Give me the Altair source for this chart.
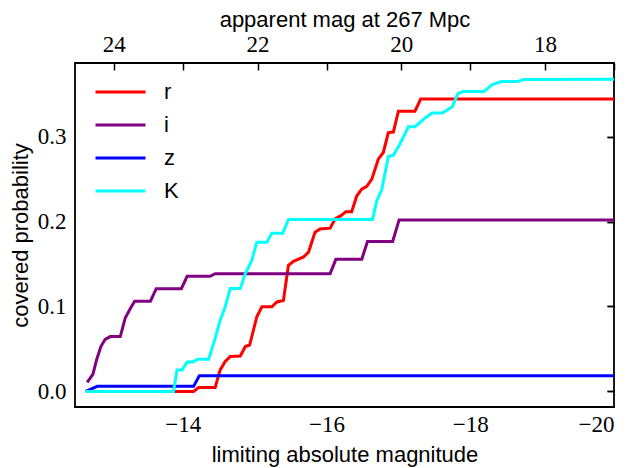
import altair as alt
import pandas as pd

# ---------------- data ----------------
bands = ["r", "i", "z", "K"]
band_colors = ["#ff0000", "#800080", "#0000ff", "#00ffff"]

r_mag = [-12.65, -14.15, -14.22, -14.45, -14.52, -14.59, -14.66, -14.80, -14.87, -14.93,
         -15.03, -15.10, -15.24, -15.31, -15.40, -15.47, -15.54, -15.68, -15.75, -15.84,
         -15.91, -16.05, -16.12, -16.20, -16.27, -16.35, -16.42, -16.49, -16.56, -16.63,
         -16.72, -16.79, -16.86, -16.93, -17.00, -17.23, -17.31, -20.0]
r_prob = [0.0, 0.0, 0.0045, 0.0045, 0.0253, 0.0352, 0.041, 0.0417, 0.0528, 0.0546,
          0.0879, 0.0996, 0.0996, 0.1053, 0.107, 0.1484, 0.1531, 0.1583, 0.1641, 0.1876,
          0.1914, 0.1923, 0.2032, 0.207, 0.2117, 0.2117, 0.2301, 0.2383, 0.2415, 0.25,
          0.2735, 0.2814, 0.3048, 0.3055, 0.3301, 0.3301, 0.3444, 0.3444]

i_mag = [-12.67, -12.75, -12.80, -12.86, -12.92, -12.99, -13.13, -13.20, -13.27, -13.33,
         -13.55, -13.63, -13.98, -14.06, -14.38, -14.45, -16.05, -16.13, -16.49, -16.57,
         -16.92, -17.01, -20.0]
i_prob = [0.0106, 0.0203, 0.037, 0.0528, 0.0613, 0.0645, 0.0645, 0.0868, 0.0977, 0.1062,
          0.1062, 0.121, 0.121, 0.1355, 0.1355, 0.1387, 0.1387, 0.1555, 0.1555, 0.1766,
          0.1766, 0.202, 0.202]

z_mag = [-12.65, -12.81, -14.15, -14.23, -20.0]
z_prob = [0.0, 0.0059, 0.0059, 0.0183, 0.0183]

k_mag = [-12.65, -13.87, -13.92, -13.99, -14.06, -14.14, -14.21, -14.36, -14.45, -14.52,
         -14.59, -14.66, -14.80, -14.87, -14.96, -15.03, -15.17, -15.24, -15.39, -15.47,
         -16.64, -16.70, -16.77, -16.86, -16.93, -17.02, -17.14, -17.23, -17.30, -17.38,
         -17.47, -17.61, -17.75, -17.83, -17.90, -18.19, -18.30, -18.43, -18.66, -18.74,
         -20.0]
k_prob = [0.0, 0.0, 0.0253, 0.0253, 0.0347, 0.0347, 0.0379, 0.0379, 0.0625, 0.0839,
          0.0996, 0.1211, 0.1211, 0.1387, 0.1543, 0.1758, 0.1758, 0.1864, 0.1864, 0.2026,
          0.2026, 0.2246, 0.2383, 0.2767, 0.2782, 0.2911, 0.3118, 0.3118, 0.3169, 0.3227,
          0.328, 0.328, 0.3353, 0.3509, 0.3532, 0.3532, 0.3611, 0.3649, 0.3649, 0.3673,
          0.3676]

x_ticks = [-14, -16, -18, -20]
y_ticks = [0.0, 0.1, 0.2, 0.3]
app_ticks = [24, 22, 20, 18]
distance_modulus = 37.04
x_limits = [-20.0, -12.5]
y_limits = [-0.0184, 0.3868]

# ---------------- styling ----------------
SERIF = "Liberation Serif"
SANS = "Liberation Sans"
TICK = dict(ticks=False, tickSize=0, domain=False, grid=True, gridDash=[7, 2000],
            gridColor="black", gridWidth=1.5, gridOpacity=1,
            labelColor="black", titleColor="black")

series = [(b, m, p) for b, m, p in zip(bands, [r_mag, i_mag, z_mag, k_mag],
                                        [r_prob, i_prob, z_prob, k_prob])]

x_scale = alt.Scale(domain=x_limits, reverse=True, nice=False, zero=False)
y_scale = alt.Scale(domain=y_limits, nice=False, zero=False)

color = alt.Color(
    "band:N",
    scale=alt.Scale(domain=bands, range=band_colors),
    legend=alt.Legend(
        title=None, orient="none", legendX=34, legendY=17.5, padding=0,
        symbolType="M-2.5,0H2.5", symbolSize=400, symbolStrokeWidth=3,
        labelFont=SANS, labelFontSize=22, labelColor="black", labelOffset=32,
        rowPadding=10,
    ),
)

x_axis = alt.Axis(values=x_ticks, format="d", labelFont=SERIF, labelFontSize=23,
                  labelPadding=6, title="limiting absolute magnitude", titleFont=SANS,
                  titleFontSize=22, titleFontWeight="normal", titlePadding=8, **TICK)
y_axis = alt.Axis(values=y_ticks, format=".1f", labelFont=SERIF, labelFontSize=23,
                  labelPadding=9, title="covered probability", titleFont=SANS,
                  titleFontSize=22, titleFontWeight="normal", titlePadding=5, **TICK)

layers = []
for b, m, p in series:
    df = pd.DataFrame({"mag": m, "prob": p, "band": b})
    layers.append(
        alt.Chart(df).mark_line(strokeWidth=3, clip=True).encode(
            x=alt.X("mag:Q", scale=x_scale, axis=x_axis),
            y=alt.Y("prob:Q", scale=y_scale, axis=y_axis),
            color=color,
        )
    )
lines = alt.layer(*layers)

top = alt.Chart(pd.DataFrame({"app": app_ticks})).mark_point(opacity=0).encode(
    x=alt.X("app:Q",
            scale=alt.Scale(domain=[x_limits[0] + distance_modulus,
                                   x_limits[1] + distance_modulus],
                            reverse=True, nice=False, zero=False),
            axis=alt.Axis(orient="top", values=app_ticks, format="d", labelFont=SERIF,
                          labelFontSize=23, labelPadding=7,
                          title="apparent mag at 267 Mpc", titleFont=SANS,
                          titleFontSize=22, titleFontWeight="normal", titlePadding=2,
                          **TICK))
)

right = alt.Chart(pd.DataFrame({"p": y_ticks})).mark_point(opacity=0).encode(
    y=alt.Y("p:Q", scale=y_scale,
            axis=alt.Axis(orient="right", values=y_ticks, labels=False, title=None, **TICK))
)

chart = (
    alt.layer(lines, top, right)
    .resolve_scale(x="independent", y="independent")
    .properties(width=539, height=344,
                autosize=alt.AutoSizeParams(type="none"),
                padding={"left": 67, "top": 55, "right": 12, "bottom": 60})
    .configure_view(stroke="black", strokeWidth=1.8)
)

chart.save("out.html", embed_options={"renderer": "svg", "actions": False})
